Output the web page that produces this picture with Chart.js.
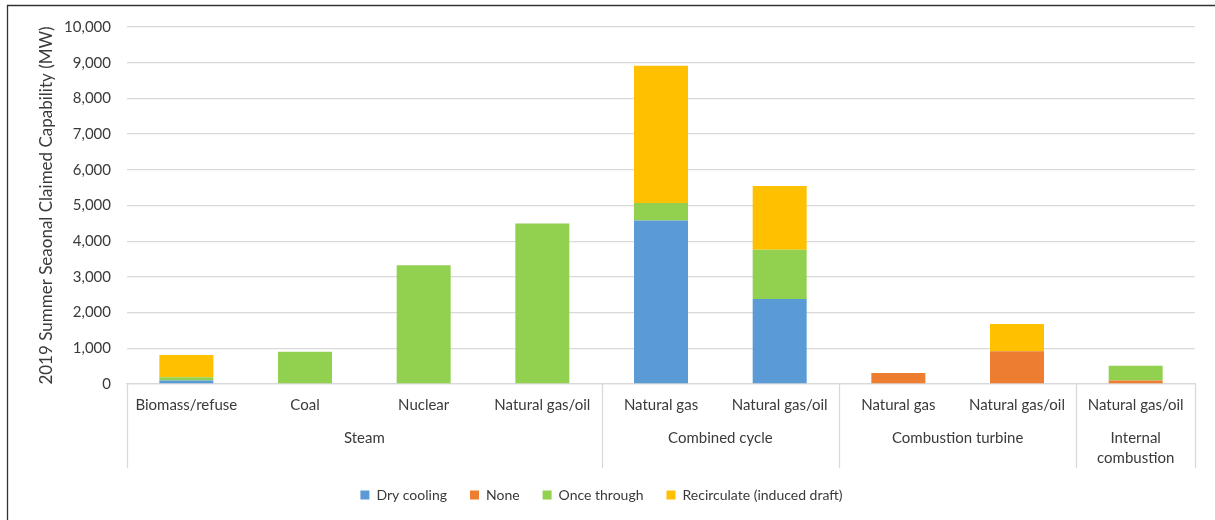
<!DOCTYPE html>
<html>
<head>
<meta charset="utf-8">
<style>
  html, body { margin: 0; padding: 0; background: #ffffff; }
  #wrap { width: 1215px; height: 520px; position: relative; }
</style>
<script src="https://cdn.jsdelivr.net/npm/chart.js@4/dist/chart.umd.min.js"></script>
</head>
<body>
<div id="wrap"><canvas id="chart" width="1215" height="520"></canvas></div>
<script>
// Generator type / fuel, grouped by prime mover
const categories = ['Biomass/refuse', 'Coal', 'Nuclear', 'Natural gas/oil',
                    'Natural gas', 'Natural gas/oil',
                    'Natural gas', 'Natural gas/oil',
                    'Natural gas/oil'];
const groupNames = [['Steam'], ['Combined cycle'], ['Combustion turbine'], ['Internal', 'combustion']];
const groupSizes = [4, 2, 2, 1];

// Summer capability (MW) by cooling type
const dryCooling   = [100, 0, 0, 0, 4580, 2380, 0, 0, 0];
const noneCooling  = [0, 0, 0, 0, 0, 0, 310, 920, 100];
const onceThrough  = [90, 900, 3325, 4495, 490, 1380, 0, 0, 410];
const recirculate  = [620, 0, 0, 0, 3845, 1785, 0, 760, 0];

const seriesNames = ['Dry cooling', 'None', 'Once through', 'Recirculate (induced draft)'];
const yTicks = [0, 1000, 2000, 3000, 4000, 5000, 6000, 7000, 8000, 9000, 10000];
const yTitle = '2019 Summer Seaonal Claimed Capability (MW)';

const FONT = 'Lato, "Liberation Sans", sans-serif';
const TEXT = '#3a3a3a';
const GRID = '#d9d9d9';

// Draws the group row under the category labels, the separators and the outer frame
const groupAxis = {
  id: 'groupAxis',
  afterDraw(chart) {
    const ctx = chart.ctx;
    const x = chart.scales.x;
    const area = chart.chartArea;
    const n = categories.length;
    const step = (x.getPixelForValue(n - 1) - x.getPixelForValue(0)) / (n - 1);
    ctx.save();
    ctx.strokeStyle = GRID;
    ctx.lineWidth = 1.3;
    let idx = 0;
    const edges = [x.getPixelForValue(0) - step / 2];
    groupSizes.forEach((size, g) => {
      const left = x.getPixelForValue(idx) - step / 2;
      const right = x.getPixelForValue(idx + size - 1) + step / 2;
      edges.push(right);
      ctx.fillStyle = TEXT;
      ctx.font = '15px ' + FONT;
      ctx.textAlign = 'center';
      ctx.textBaseline = 'middle';
      groupNames[g].forEach((line, li) => {
        ctx.fillText(line, (left + right) / 2, area.bottom + 54 + li * 20);
      });
      idx += size;
    });
    edges.forEach(ex => {
      const px = Math.round(ex) + 0.5;
      ctx.beginPath();
      ctx.moveTo(px, area.bottom);
      ctx.lineTo(px, area.bottom + 84);
      ctx.stroke();
    });
    // outer frame
    ctx.strokeStyle = '#333333';
    ctx.lineWidth = 1.3;
    ctx.beginPath();
    ctx.moveTo(7.5, 520);
    ctx.lineTo(7.5, 5.5);
    ctx.lineTo(1215, 5.5);
    ctx.stroke();
    ctx.restore();
  }
};

const colors = ['#5B9BD5', '#ED7D31', '#92D050', '#FFC000'];
const values = [dryCooling, noneCooling, onceThrough, recirculate];

new Chart(document.getElementById('chart'), {
  type: 'bar',
  data: {
    labels: categories,
    datasets: seriesNames.map((name, i) => ({
      label: name,
      data: values[i],
      backgroundColor: colors[i],
      borderWidth: 0,
      categoryPercentage: 1,
      barPercentage: 0.455
    }))
  },
  options: {
    responsive: false,
    animation: false,
    layout: { padding: { left: 8, right: 20, top: 27, bottom: 8 } },
    plugins: {
      tooltip: { enabled: false },
      legend: {
        position: 'bottom',
        labels: {
          boxWidth: 9,
          boxHeight: 9,
          padding: 23,
          color: TEXT,
          font: { family: FONT, size: 14 }
        }
      }
    },
    scales: {
      x: {
        stacked: true,
        grid: { display: false, drawTicks: false },
        border: { display: true, color: GRID, width: 1.3 },
        ticks: {
          color: TEXT,
          font: { family: FONT, size: 15 },
          padding: 12,
          maxRotation: 0,
          autoSkip: false
        },
        afterFit(scale) { scale.height = 81; }
      },
      y: {
        stacked: true,
        min: 0,
        max: 10000,
        afterBuildTicks(scale) { scale.ticks = yTicks.map(v => ({ value: v })); },
        grid: { color: GRID, lineWidth: 1.3, drawTicks: false },
        border: { display: false },
        ticks: {
          color: TEXT,
          font: { family: FONT, size: 15 },
          padding: 16,
          callback: v => v.toLocaleString('en-US')
        },
        title: {
          display: true,
          text: yTitle,
          color: TEXT,
          font: { family: FONT, size: 17 },
          padding: { top: 28, bottom: 0 }
        },
        afterFit(scale) { scale.width = 119; }
      }
    }
  },
  plugins: [groupAxis]
});
</script>
</body>
</html>
